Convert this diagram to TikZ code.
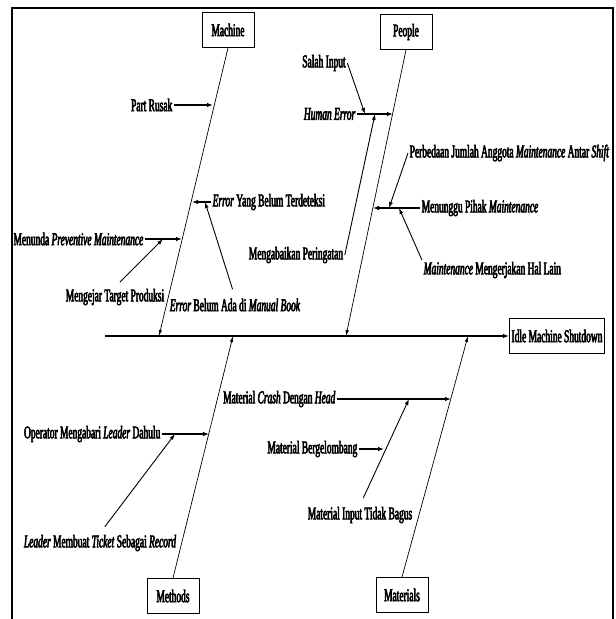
\documentclass[tikz,border=0pt]{standalone}
\usepackage{fontspec}
\setmainfont{Liberation Serif}[FakeStretch=0.525,FakeBold=3]
\usetikzlibrary{arrows.meta}
\begin{document}
\begin{tikzpicture}[x=1pt,y=-1pt,
  lbl/.style={font=\fontsize{18}{20}\selectfont, inner sep=1.5pt},
  cat/.style={draw, line width=0.9pt, minimum width=52pt, minimum height=35pt, inner sep=0pt, font=\fontsize{18}{20}\selectfont},
  spine/.style={line width=1.2pt, -{Latex[length=6pt,width=4.5pt]}},
  bone/.style={line width=0.7pt, -{Latex[length=6pt,width=3.5pt]}},
  sub/.style={line width=1.4pt, -{Latex[length=6pt,width=4.5pt]}},
  subsub/.style={line width=0.9pt, -{Latex[length=6pt,width=4pt]}}
]
\useasboundingbox (0,0) rectangle (616,619);
\draw[line width=1.6pt] (12,619) -- (12,8) -- (613,8) -- (613,619);

% categories
\node[cat] (machine) at (228,30) {Machine};
\node[cat] (people) at (406,32) {People};
\node[cat] (methods) at (173,596) {Methods};
\node[cat] (materials) at (402,595) {Materials};
\node[cat, minimum width=95pt] (idle) at (557,336) {Idle Machine Shutdown};

% spine
\coordinate (tail) at (105,336);
\draw[spine] (tail) -- (idle.west);
\coordinate (mS) at (159,336);
\coordinate (pS) at (346,336);
\coordinate (tS) at (233,336);
\coordinate (aS) at (468,336);
\draw[bone] (machine.south) -- (mS);
\draw[bone] (people.south) -- (pS);
\draw[bone] (methods.north) -- (tS);
\draw[bone] (materials.north) -- (aS);

% Machine
\node[lbl, anchor=east] (partrusak) at (174,105) {Part Rusak};
\coordinate (m1) at (213,105);
\draw[sub] (partrusak) -- (m1);
\node[lbl, anchor=west] (eybt) at (211,202) {\textit{Error} Yang Belum Terdeteksi};
\coordinate (m2) at (192,202);
\coordinate (m2a) at (205,202);
\draw[sub] (eybt) -- (m2);
\node[lbl] (ebad) at (235,305) {\textit{Error} Belum Ada di \textit{Manual Book}};
\draw[subsub, shorten <=8pt] (ebad.north) -- (m2a);
\node[lbl, anchor=east] (mpm) at (145,239) {Menunda \textit{Preventive Maintenance}};
\coordinate (m3) at (182,239);
\coordinate (m3a) at (163,239);
\draw[sub] (mpm) -- (m3);
\node[lbl] (mtp) at (115,297) {Mengejar Target Produksi};
\draw[subsub, shorten <=7pt] (mtp.north) -- (m3a);

% People
\node[lbl] (salah) at (324,63) {Salah Input};
\node[lbl, anchor=east] (he) at (357,114) {\textit{Human Error}};
\coordinate (p1) at (393,114);
\coordinate (p1a) at (365,114);
\coordinate (p1b) at (375,114);
\draw[sub] (he) -- (p1);
\draw[subsub] (salah.east) -- (p1a);
\node[lbl] (mp) at (296,255) {Mengabaikan Peringatan};
\draw[subsub] (mp.east) -- (p1b);
\node[lbl, anchor=west] (perb) at (408,153) {Perbedaan Jumlah Anggota \textit{Maintenance} Antar \textit{Shift}};
\coordinate (p2) at (373,208);
\coordinate (p2a) at (389,208);
\coordinate (p2b) at (399,208);
\node[lbl, anchor=west] (mpm2) at (420,208) {Menunggu Pihak \textit{Maintenance}};
\draw[sub] (mpm2) -- (p2);
\draw[subsub] (perb.west) -- (p2a);
\node[lbl, anchor=west] (mmhl) at (422,270) {\textit{Maintenance} Mengerjakan Hal Lain};
\draw[subsub] (mmhl.north west) -- (p2b);

% Methods
\node[lbl, anchor=east] (op) at (162,434) {Operator Mengabari \textit{Leader} Dahulu};
\coordinate (t1) at (209,434);
\coordinate (t1a) at (175,434);
\draw[sub] (op) -- (t1);
\node[lbl] (lead) at (100,543) {\textit{Leader} Membuat \textit{Ticket} Sebagai \textit{Record}};
\draw[subsub, shorten <=8pt] (lead.north) -- (t1a);

% Materials
\node[lbl, anchor=east] (crash) at (337,399) {Material \textit{Crash} Dengan \textit{Head}};
\coordinate (a1) at (451,399);
\coordinate (a1a) at (409,399);
\coordinate (a1b) at (384,449);
\draw[sub] (crash) -- (a1);
\node[lbl] (mitb) at (360,515) {Material Input Tidak Bagus};
\draw[subsub, shorten <=8pt] (mitb.north) -- (a1a);
\node[lbl, anchor=east] (berg) at (359,449) {Material Bergelombang};
\draw[sub] (berg) -- (a1b);
\end{tikzpicture}
\end{document}
